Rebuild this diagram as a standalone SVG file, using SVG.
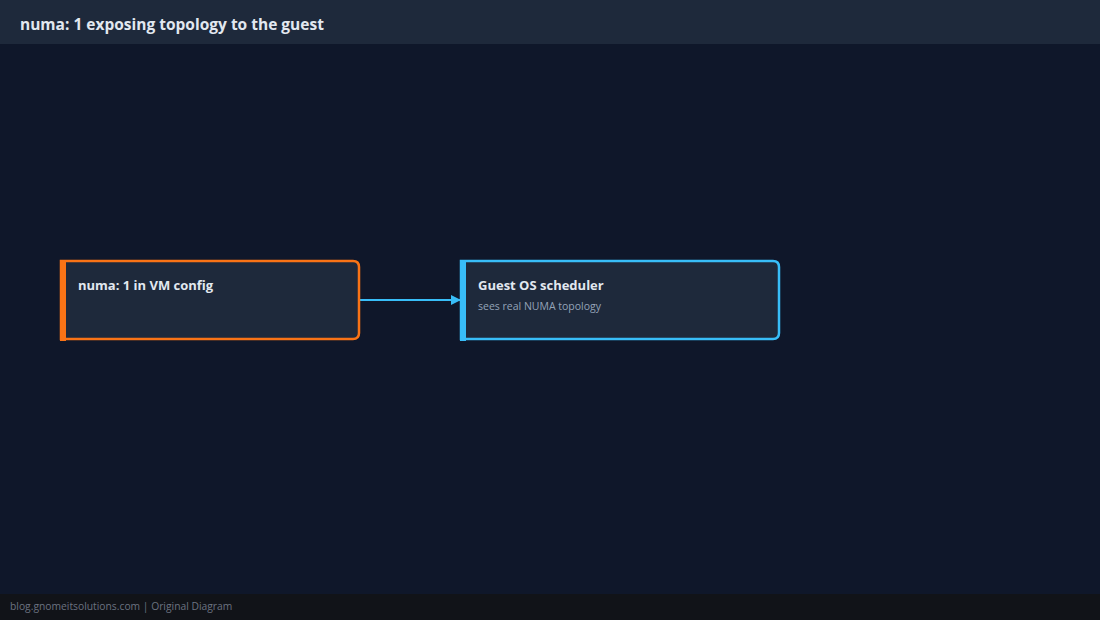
<svg xmlns="http://www.w3.org/2000/svg" width="1100" height="620" viewBox="0 0 1100 620">
<defs>
<style>
.t{font-family:"Open Sans","Noto Sans","Liberation Sans",sans-serif}
.h{font-size:15.5px;font-weight:bold;fill:#e2e8f0}
.nt{font-size:13px;font-weight:bold;fill:#e2e8f0}
.ns{font-size:10.5px;fill:#94a3b8}
.f{font-size:10.3px;fill:#6b7280}
.box{fill:#1e293b;stroke-width:2.5}
</style>
<marker id="arr" viewBox="0 0 10 10" refX="9" refY="5" markerWidth="5" markerHeight="5.5" orient="auto" markerUnits="strokeWidth">
<path d="M0,0 L10,5 L0,10 z" fill="#38bdf8"/>
</marker>
</defs>
<rect width="1100" height="620" fill="#0f172a"/>
<rect width="1100" height="44" fill="#1e293b"/>
<text class="t h" x="20" y="30">numa: 1 exposing topology to the guest</text>
<rect y="594" width="1100" height="26" fill="#111318"/>
<text class="t f" x="10" y="610">blog.gnomeitsolutions.com | Original Diagram</text>
<g id="connectors">
<line x1="360" y1="300" x2="460" y2="300" stroke="#38bdf8" stroke-width="2" marker-end="url(#arr)"/>
</g>
<g id="node-vm">
<path class="box" d="M61,261 H353 Q359,261 359,267 V333 Q359,339 353,339 H61 Z" stroke="#f97316"/>
<rect x="60" y="260" width="6" height="81" fill="#f97316"/>
<text class="t nt" x="78" y="290">numa: 1 in VM config</text>
</g>
<g id="node-guest">
<path class="box" d="M461,261 H773 Q779,261 779,267 V333 Q779,339 773,339 H461 Z" stroke="#38bdf8"/>
<rect x="460" y="260" width="6" height="81" fill="#38bdf8"/>
<text class="t nt" x="478" y="290">Guest OS scheduler</text>
<text class="t ns" x="478" y="310">sees real NUMA topology</text>
</g>
</svg>
